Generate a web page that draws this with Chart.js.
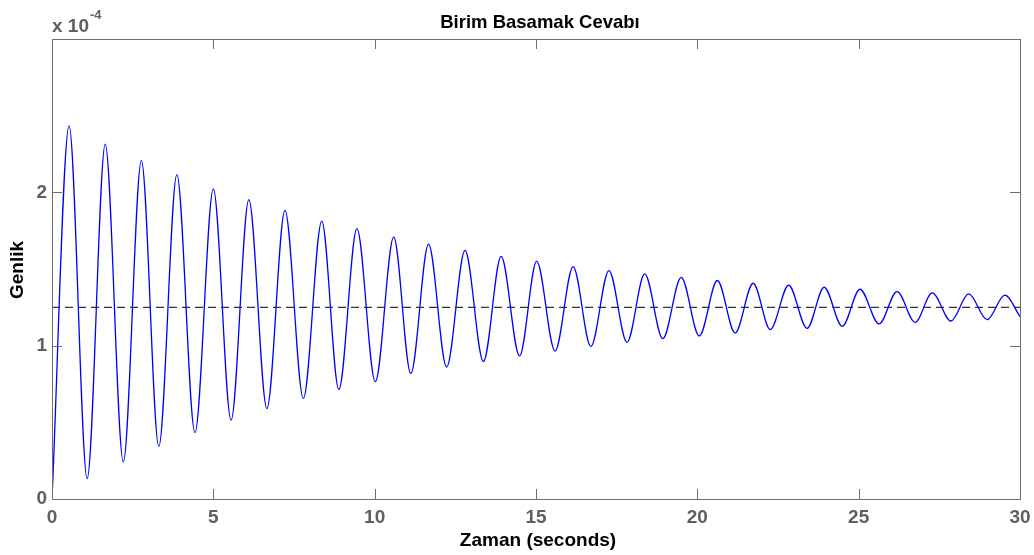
<!DOCTYPE html>
<html>
<head>
<meta charset="utf-8">
<script src="https://cdn.jsdelivr.net/npm/chart.js@4.4.0/dist/chart.umd.min.js"></script>
<style>
  html, body { margin: 0; padding: 0; background: #fff; }
  canvas { display: block; }
</style>
</head>
<body>
<canvas id="c" width="1034" height="555"></canvas>
<script>
// Step response; amplitudes in units of 1e-4.
const startPoint = [0, 0];
const endPoint = [30, 1.19];
const peakTimes = [0.53, 1.65, 2.77, 3.87, 5.00, 6.10, 7.22, 8.36, 9.45, 10.59, 11.67, 12.80, 13.92, 15.02,
  16.15, 17.26, 18.37, 19.50, 20.62, 21.73, 22.83, 23.93, 25.04, 26.19, 27.28, 28.41, 29.53];
const peakValues = [2.433, 2.314, 2.209, 2.116, 2.022, 1.952, 1.882, 1.812, 1.763, 1.708, 1.662, 1.621, 1.582, 1.551,
  1.516, 1.490, 1.468, 1.446, 1.425, 1.407, 1.394, 1.381, 1.368, 1.353, 1.344, 1.338, 1.329];
const troughTimes = [1.09, 2.21, 3.31, 4.43, 5.55, 6.66, 7.79, 8.89, 10.02, 11.12, 12.23, 13.37, 14.49, 15.59,
  16.70, 17.82, 18.93, 20.06, 21.17, 22.26, 23.40, 24.49, 25.63, 26.75, 27.86, 28.98];
const troughValues = [0.133, 0.242, 0.342, 0.433, 0.514, 0.590, 0.656, 0.714, 0.765, 0.819, 0.861, 0.897, 0.933, 0.965,
  0.995, 1.022, 1.046, 1.063, 1.083, 1.105, 1.113, 1.126, 1.142, 1.152, 1.161, 1.170];
const finalValue = 1.25;
const xTicks = [0, 5, 10, 15, 20, 25, 30];
const yTicks = [0, 1, 2];

const titleText = 'Birim Basamak Cevabı';
const xTitle = 'Zaman (seconds)';
const yTitle = 'Genlik';

// interleave peaks and troughs into one response line
const response = [{ x: startPoint[0], y: startPoint[1] }];
peakTimes.forEach((t, i) => {
  response.push({ x: t, y: peakValues[i] });
  if (i < troughTimes.length) response.push({ x: troughTimes[i], y: troughValues[i] });
});
response.push({ x: endPoint[0], y: endPoint[1] });

const FONT = 'Arial, "Liberation Sans", sans-serif';
const GREY = '#5f5f5f';

// MATLAB style box: frame, inward ticks on all sides, titles, exponent
const matlabBox = {
  id: 'matlabBox',
  afterDraw(chart) {
    const { ctx, chartArea: a, scales } = chart;
    const xs = scales.x, ys = scales.y;
    ctx.save();
    ctx.strokeStyle = '#6e6e6e';
    ctx.lineWidth = 1;
    ctx.strokeRect(a.left + 0.5, a.top + 0.5, a.right - a.left, a.bottom - a.top);
    ctx.beginPath();
    const tl = 10;
    xTicks.forEach(v => {
      const px = Math.round(xs.getPixelForValue(v)) + 0.5;
      ctx.moveTo(px, a.bottom); ctx.lineTo(px, a.bottom - tl);
      ctx.moveTo(px, a.top); ctx.lineTo(px, a.top + tl);
    });
    yTicks.forEach(v => {
      const py = Math.round(ys.getPixelForValue(v)) + 0.5;
      ctx.moveTo(a.left, py); ctx.lineTo(a.left + tl, py);
      ctx.moveTo(a.right, py); ctx.lineTo(a.right - tl, py);
    });
    ctx.stroke();

    ctx.fillStyle = '#000';
    ctx.textAlign = 'center';
    ctx.textBaseline = 'middle';
    ctx.font = 'bold 18.5px ' + FONT;
    ctx.fillText(titleText, 540, 23);
    ctx.font = 'bold 19px ' + FONT;
    ctx.fillText(xTitle, 538, 541);
    ctx.save();
    ctx.translate(18, 270);
    ctx.rotate(-Math.PI / 2);
    ctx.fillText(yTitle, 0, 0);
    ctx.restore();

    ctx.fillStyle = GREY;
    ctx.textAlign = 'left';
    ctx.textBaseline = 'alphabetic';
    ctx.font = 'bold 19px ' + FONT;
    ctx.fillText('x 10', 52, 32);
    const w = ctx.measureText('x 10').width;
    ctx.font = 'bold 13px ' + FONT;
    ctx.fillText('-4', 52 + w + 1, 19);
    ctx.restore();
  }
};

new Chart(document.getElementById('c'), {
  type: 'line',
  data: {
    datasets: [
      {
        data: response,
        borderColor: '#0000ff',
        borderWidth: 1.3,
        pointRadius: 0,
        cubicInterpolationMode: 'monotone',
        fill: false,
        order: 1
      },
      {
        data: [{ x: 0, y: finalValue }, { x: 30, y: finalValue }],
        borderColor: '#333',
        borderWidth: 1.3,
        borderDash: [8, 5],
        pointRadius: 0,
        fill: false,
        order: 2
      }
    ]
  },
  options: {
    animation: false,
    responsive: false,
    devicePixelRatio: 1,
    layout: { padding: { top: 39, right: 14, left: 0, bottom: 0 } },
    plugins: { legend: { display: false }, tooltip: { enabled: false }, title: { display: false } },
    scales: {
      x: {
        type: 'linear', min: 0, max: 30,
        grid: { display: false, drawTicks: false },
        border: { display: false },
        ticks: { stepSize: 5, color: GREY, font: { family: FONT, size: 19, weight: 'bold' }, padding: 7, maxRotation: 0 },
        afterFit(s) { s.height = 56; s.paddingLeft = 0; s.paddingRight = 0; }
      },
      y: {
        type: 'linear', min: 0, max: 3,
        grid: { display: false, drawTicks: false },
        border: { display: false },
        ticks: {
          stepSize: 1, color: GREY, font: { family: FONT, size: 19, weight: 'bold' }, padding: 5,
          callback: v => (yTicks.includes(v) ? String(v) : '')
        },
        afterFit(s) { s.width = 52; s.paddingTop = 0; s.paddingBottom = 0; }
      }
    }
  },
  plugins: [matlabBox]
});
</script>
</body>
</html>
